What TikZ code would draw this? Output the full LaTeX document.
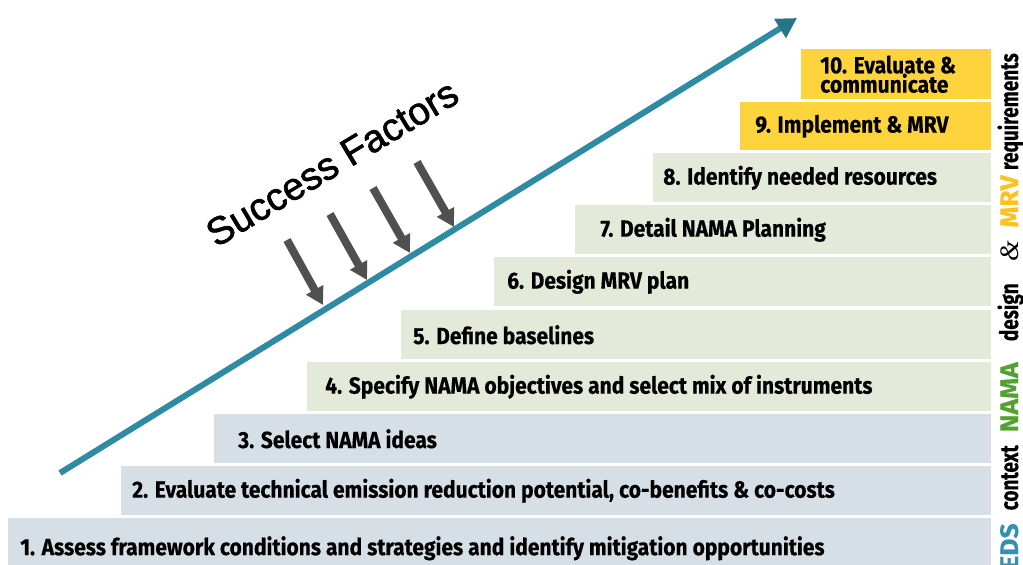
\documentclass[tikz,border=0pt]{standalone}
\usepackage{xcolor}
\usepackage{fontspec}
\setmainfont{Liberation Sans}
\newfontfamily\stepfont[FakeStretch=0.9, FakeBold=0.4]{Fira Sans}
\newfontfamily\phasefont[FakeStretch=0.75, FakeBold=0.4]{Fira Sans}
\newfontfamily\phasecapsfont[FakeStretch=1.05, FakeBold=0.4]{Fira Sans}
\newfontfamily\factorfont[FakeBold=1.6]{Liberation Sans}
\newfontfamily\ampfont{Liberation Serif}
\usetikzlibrary{arrows.meta, positioning}
\definecolor{contextcolor}{RGB}{213, 223, 229}
\definecolor{designcolor}{RGB}{228, 234, 217}
\definecolor{mrvcolor}{RGB}{254, 212, 60}
\definecolor{progresscolor}{RGB}{46, 139, 163}
\definecolor{tipcolor}{RGB}{38, 118, 136}
\definecolor{factorcolor}{RGB}{80, 80, 80}
\definecolor{ledscolor}{RGB}{52, 143, 176}
\definecolor{namacolor}{RGB}{84, 160, 48}
\definecolor{mrvtext}{RGB}{253, 194, 33}
\tikzstyle{stepbox} = [rectangle, anchor=north west, inner sep=0, minimum height=36.75pt]
\tikzstyle{contextstep} = [stepbox, fill=contextcolor]
\tikzstyle{designstep} = [stepbox, fill=designcolor]
\tikzstyle{mrvstep} = [stepbox, fill=mrvcolor]
\tikzstyle{steptext} = [inner sep=0, align=left, text=black, font=\stepfont\bfseries\fontsize{17.5}{14.5}\selectfont]
\tikzstyle{phase} = [rotate=90, anchor=base east, inner sep=0, text=black, font=\phasefont\bfseries\fontsize{19}{19}\selectfont]
\tikzstyle{phasecaps} = [phase, font=\phasecapsfont\bfseries\fontsize{19}{19}\selectfont]
\tikzstyle{progress} = [line width=4.5pt, progresscolor, -{Triangle[length=15pt, width=16pt, color=tipcolor]}]
\tikzstyle{factor} = [line width=6pt, factorcolor, -{Triangle[length=13pt, width=14pt]}]

\begin{document}
\begin{tikzpicture}[x=0.75pt, y=-0.75pt]
\useasboundingbox (0,0) rectangle (1023,564);
\clip (0,0) rectangle (1023,564);

% Context steps
\node (s1) [contextstep, minimum width=737.25pt, minimum height=45pt] at (8,518) {};
\node (s2) [contextstep, minimum width=652.5pt] at (121,466) {};
\node (s3) [contextstep, minimum width=582.75pt] at (214,414) {};

% Design steps
\node (s4) [designstep, minimum width=513pt] at (307,362) {};
\node (s5) [designstep, minimum width=442.5pt] at (401,310) {};
\node (s6) [designstep, minimum width=372.75pt] at (494,257) {};
\node (s7) [designstep, minimum width=312pt] at (575,205) {};
\node (s8) [designstep, minimum width=253.5pt] at (653,153) {};

% MRV steps
\node (s9) [mrvstep, minimum width=188.25pt, minimum height=36pt] at (740,102) {};
\node (s10) [mrvstep, minimum width=142.5pt, minimum height=37.5pt] at (801,49) {};

% Step labels
\node (t1) [steptext, right=9pt of s1.west] {1. Assess framework conditions and strategies and identify mitigation opportunities};
\node (t2) [steptext, right=8.25pt of s2.west] {2. Evaluate technical emission reduction potential, co-benefits \& co-costs};
\node (t3) [steptext, right=18pt of s3.west] {3. Select NAMA ideas};
\node (t4) [steptext, right=13.5pt of s4.west] {4. Specify NAMA objectives and select mix of instruments};
\node (t5) [steptext, right=9pt of s5.west] {5. Define baselines};
\node (t6) [steptext, right=9.75pt of s6.west] {6. Design MRV plan};
\node (t7) [steptext, right=18.75pt of s7.west] {7. Detail NAMA Planning};
\node (t8) [steptext, right=7.5pt of s8.west] {8. Identify needed resources};
\node (t9) [steptext, right=11.25pt of s9.west] {9. Implement \& MRV};
\node (t10) [steptext, right=14.25pt of s10.west] {10. Evaluate \&\\communicate};

% Phase labels
\node (lblreq) [phase] at (1018,53) {requirements};
\node (lblmrv) [phasecaps, text=mrvtext] at (1018,175) {MRV};
\node (lblamp) [phase, font=\ampfont\itshape\fontsize{20}{20}\selectfont] at (1018,240) {\&};
\node (lbldesign) [phase] at (1018,283) {design};
\node (lblnama) [phasecaps, text=namacolor] at (1018,362) {NAMA};
\node (lblcontext) [phase] at (1018,445) {context};
\node (lblleds) [phasecaps, text=ledscolor] at (1018,523) {LEDS};

% Progress arrow
\coordinate (pstart) at (60,473);
\coordinate (ptip) at (797,18);
\draw [progress] (pstart) -- (ptip);

% Success factors
\node (factors) [rotate=31, font=\factorfont\fontsize{29}{30}\selectfont] at (332,163) {Success Factors};
\coordinate (f1a) at (287,240);
\coordinate (f1b) at (323,305);
\coordinate (f2a) at (330,214);
\coordinate (f2b) at (367,280);
\coordinate (f3a) at (373,188);
\coordinate (f3b) at (410,253);
\coordinate (f4a) at (417,162);
\coordinate (f4b) at (454,227);
\draw [factor] (f1a) -- (f1b);
\draw [factor] (f2a) -- (f2b);
\draw [factor] (f3a) -- (f3b);
\draw [factor] (f4a) -- (f4b);

\end{tikzpicture}
\end{document}
